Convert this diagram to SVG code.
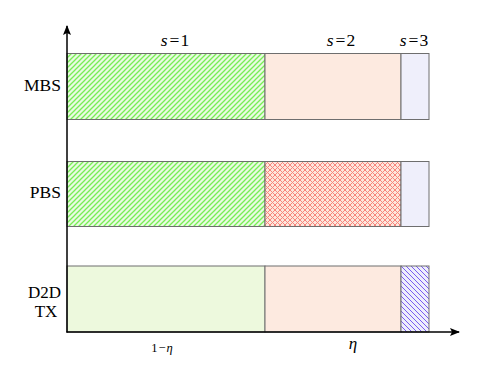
<svg xmlns="http://www.w3.org/2000/svg" width="485" height="378" viewBox="0 0 485 378">
<style>
.cell{stroke:#6e6e6e;stroke-width:1}
.lbl{font-family:"Liberation Serif",serif;font-size:17.5px;fill:#000}
.it{font-style:italic}
.ax{stroke:#000;stroke-width:1.5;fill:none}
</style>
<defs>
<pattern id="gh" patternUnits="userSpaceOnUse" width="5" height="5">
<rect width="5" height="5" fill="#eafbe2"/>
<path d="M-1,1 L1,-1 M0,5 L5,0 M4,6 L6,4" stroke="#78ee55" stroke-width="1.3"/>
</pattern>
<pattern id="rx" patternUnits="userSpaceOnUse" width="5" height="5">
<rect width="5" height="5" fill="#fde6dc"/>
<path d="M0,0 L5,5 M5,0 L0,5" stroke="#f8857c" stroke-width="1"/>
</pattern>
<pattern id="bh" patternUnits="userSpaceOnUse" width="5" height="5">
<rect width="5" height="5" fill="#eeeefc"/>
<path d="M-1,4 L1,6 M0,0 L5,5 M4,-1 L6,1" stroke="#7a5cf0" stroke-width="1"/>
</pattern>
<marker id="ah" markerWidth="10" markerHeight="8" refX="9" refY="4" orient="auto" markerUnits="userSpaceOnUse">
<path d="M0,0 L10,4 L0,8 L2,4 Z" fill="#000"/>
</marker>
</defs>
<g id="MBS">
<rect class="cell" x="67" y="53.5" width="198" height="66" fill="url(#gh)"/>
<rect class="cell" x="265" y="53.5" width="136" height="66" fill="#fdeae0"/>
<rect class="cell" x="401" y="53.5" width="28" height="66" fill="#efeffb"/>
<text class="lbl" x="61" y="91" text-anchor="end">MBS</text>
</g>
<g id="PBS">
<rect class="cell" x="67" y="161.5" width="198" height="65" fill="url(#gh)"/>
<rect class="cell" x="265" y="161.5" width="136" height="65" fill="url(#rx)"/>
<rect class="cell" x="401" y="161.5" width="28" height="65" fill="#efeffb"/>
<text class="lbl" x="61" y="198" text-anchor="end">PBS</text>
</g>
<g id="D2D">
<rect class="cell" x="67" y="266" width="198" height="66" fill="#edf9dd"/>
<rect class="cell" x="265" y="266" width="136" height="66" fill="#fdeae0"/>
<rect class="cell" x="401" y="266" width="28" height="66" fill="url(#bh)"/>
<text class="lbl" x="44.5" y="297.5" text-anchor="middle" style="font-size:17px">D2D</text>
<text class="lbl" x="46" y="316.5" text-anchor="middle" style="font-size:17px">TX</text>
</g>
<g id="labels">
<text class="lbl" x="175" y="45.5" text-anchor="middle"><tspan class="it">s</tspan><tspan dx="2">=</tspan><tspan dx="1">1</tspan></text>
<text class="lbl" x="341" y="45.5" text-anchor="middle"><tspan class="it">s</tspan><tspan dx="2">=</tspan><tspan dx="1">2</tspan></text>
<text class="lbl" x="414" y="45.5" text-anchor="middle"><tspan class="it">s</tspan><tspan dx="2">=</tspan><tspan dx="1">3</tspan></text>
<text class="lbl" x="162" y="352" text-anchor="middle" style="font-size:12.5px">1<tspan dx="1">−</tspan><tspan class="it" dx="1">η</tspan></text>
<text class="lbl it" x="353" y="349" text-anchor="middle" style="font-size:17px">η</text>
</g>
<g id="connectors">
<line class="ax" x1="67" y1="332.5" x2="67" y2="26" marker-end="url(#ah)"/>
<line class="ax" x1="66.5" y1="332" x2="459" y2="332" marker-end="url(#ah)"/>
</g>
</svg>
